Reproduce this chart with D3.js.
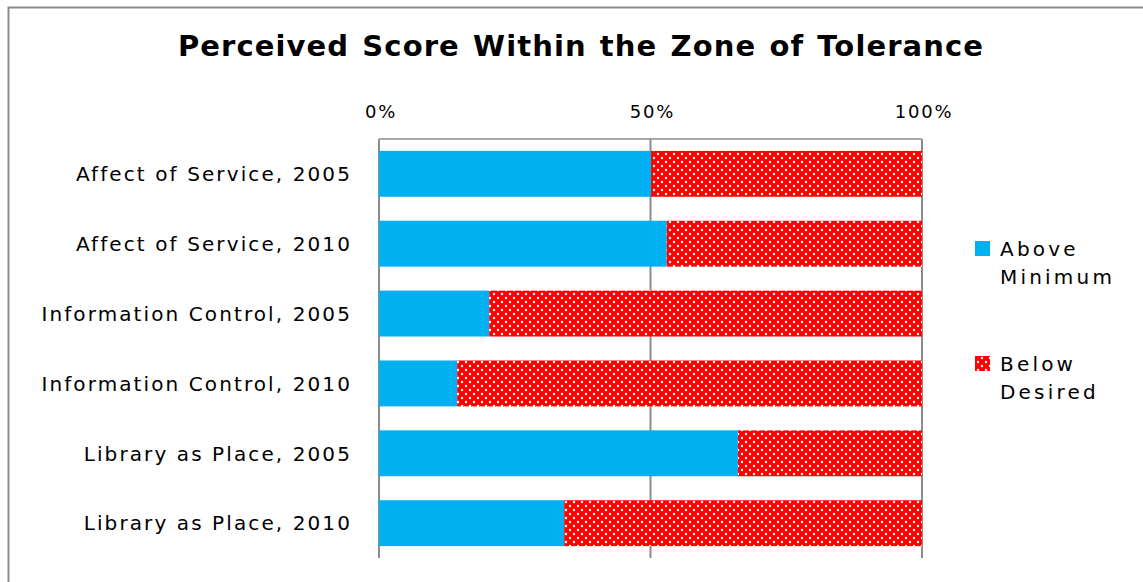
<!DOCTYPE html>
<html>
<head>
<meta charset="utf-8">
<script src="https://cdn.jsdelivr.net/npm/d3@7"></script>
<style>
  body { margin: 0; background: #fff; }
  svg { display: block; font-family: "DejaVu Sans", "Open Sans", sans-serif; }
</style>
</head>
<body>
<svg id="chart" width="1143" height="582"></svg>
<script>
const categories = [
  'Affect of Service, 2005',
  'Affect of Service, 2010',
  'Information Control, 2005',
  'Information Control, 2010',
  'Library as Place, 2005',
  'Library as Place, 2010'
];
const aboveMinimum = [50.1, 53.0, 20.3, 14.4, 66.1, 34.1];
const belowDesired = [49.9, 47.0, 79.7, 85.6, 33.9, 65.9];
const seriesNames = ['Above Minimum', 'Below Desired'];
const tickValues = [0, 0.5, 1];

const svg = d3.select('#chart');
const margin = {top: 139, left: 379, right: 221, bottom: 24};
const width = 1143, height = 582;
const font = '"DejaVu Sans", "Open Sans", sans-serif';

// chart frame
svg.append('rect')
  .attr('x', 8.5).attr('y', 7.5)
  .attr('width', 1200).attr('height', 700)
  .attr('fill', 'none').attr('stroke', '#8c8c8c').attr('stroke-width', 2);

// dotted red fill
const defs = svg.append('defs');
const pat = defs.append('pattern')
  .attr('id', 'dots')
  .attr('patternUnits', 'userSpaceOnUse')
  .attr('width', 8).attr('height', 8);
pat.append('rect').attr('width', 8).attr('height', 8).attr('fill', '#ff0000');
pat.append('circle').attr('cx', 2).attr('cy', 2).attr('r', 1.2).attr('fill', '#fff');
pat.append('circle').attr('cx', 6).attr('cy', 6).attr('r', 1.2).attr('fill', '#fff');

svg.append('text')
  .attr('x', 581).attr('y', 56)
  .attr('text-anchor', 'middle')
  .attr('font-size', 29).attr('font-weight', 'bold')
  .attr('letter-spacing', 1.1).attr('word-spacing', 2)
  .text('Perceived Score Within the Zone of Tolerance');

const x = d3.scaleLinear().domain([0, 1]).range([margin.left, width - margin.right]);
const y = d3.scaleBand().domain(categories)
  .range([margin.top, height - margin.bottom])
  .paddingInner(0.343).paddingOuter(0.17);

const rows = categories.map((c, i) => {
  const tot = aboveMinimum[i] + belowDesired[i];
  return {cat: c, a: aboveMinimum[i] / tot, b: belowDesired[i] / tot};
});

// gridlines
const grid = svg.append('g');
grid.selectAll('line.v').data(tickValues).enter().append('line')
  .attr('x1', d => x(d)).attr('x2', d => x(d))
  .attr('y1', margin.top).attr('y2', height - margin.bottom)
  .attr('stroke', '#8c8c8c').attr('stroke-width', 2);
grid.append('line')
  .attr('x1', x(0)).attr('x2', x(1))
  .attr('y1', margin.top).attr('y2', margin.top)
  .attr('stroke', '#8c8c8c').attr('stroke-width', 1.5);

// bars
const bars = svg.append('g');
bars.selectAll('rect.a').data(rows).enter().append('rect')
  .attr('x', x(0)).attr('y', d => y(d.cat))
  .attr('width', d => x(d.a) - x(0)).attr('height', y.bandwidth())
  .attr('fill', '#00b0f0');
bars.selectAll('rect.b').data(rows).enter().append('rect')
  .attr('x', d => x(d.a)).attr('y', d => y(d.cat))
  .attr('width', d => x(1) - x(d.a)).attr('height', y.bandwidth())
  .attr('fill', 'url(#dots)');

// top axis
const xAxis = d3.axisTop(x).tickValues(tickValues).tickFormat(d3.format('.0%')).tickSize(0).tickPadding(0);
svg.append('g')
  .attr('transform', 'translate(1.5,118)')
  .call(xAxis)
  .call(g => g.select('.domain').remove())
  .call(g => g.selectAll('text').attr('font-size', 18).attr('fill', '#000')
    .attr('letter-spacing', 1.8).attr('font-family', font));

// left axis labels
const yAxis = d3.axisLeft(y).tickSize(0).tickPadding(27);
svg.append('g')
  .attr('transform', `translate(${margin.left},0)`)
  .call(yAxis)
  .call(g => g.select('.domain').remove())
  .call(g => g.selectAll('text').attr('font-size', 20).attr('fill', '#000')
    .attr('letter-spacing', 2.1).attr('dy', '0.36em').attr('font-family', font));

// legend
const legend = svg.append('g');
const legendItems = [
  {name: seriesNames[0], fill: '#00b0f0', y: 241},
  {name: seriesNames[1], fill: 'url(#dots)', y: 356}
];
legendItems.forEach(it => {
  legend.append('rect').attr('x', 975).attr('y', it.y)
    .attr('width', 15).attr('height', 15).attr('fill', it.fill);
  const t = legend.append('text').attr('font-size', 20).attr('fill', '#000')
    .attr('letter-spacing', 3.2);
  it.name.split(' ').forEach((w, k) => {
    t.append('tspan').attr('x', 1000).attr('y', it.y + 15 + k * 28).text(w);
  });
});
</script>
</body>
</html>
